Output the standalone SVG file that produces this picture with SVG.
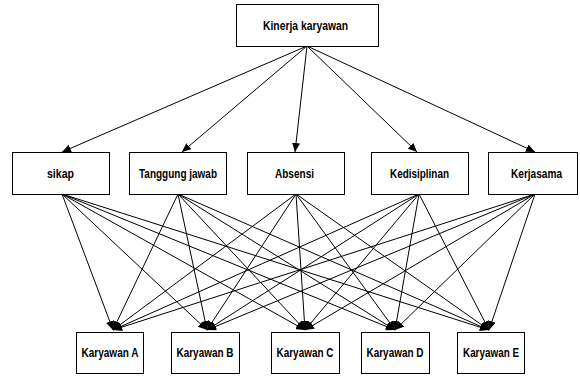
<svg xmlns="http://www.w3.org/2000/svg" width="580" height="376" viewBox="0 0 580 376">
<defs>
<style>
.box{fill:#fff;stroke:#000;stroke-width:1}
.t{font-family:"Liberation Sans",Arial,sans-serif;font-weight:bold;font-size:12px;text-anchor:middle;fill:#000}
.c line{stroke:#000;stroke-width:1;marker-end:url(#ah)}
</style>
<marker id="ah" markerUnits="userSpaceOnUse" markerWidth="10" markerHeight="8" refX="9" refY="4" orient="auto"><path d="M0,0 L9,4 L0,8 z" fill="#000"/></marker>
</defs>
<rect width="580" height="376" fill="#fff"/>
<g class="c" id="connectors">
<line x1="307" y1="46" x2="62" y2="152"/>
<line x1="307" y1="46" x2="182" y2="152"/>
<line x1="307" y1="46" x2="295" y2="152"/>
<line x1="307" y1="46" x2="417" y2="152"/>
<line x1="307" y1="46" x2="535" y2="152"/>
<line x1="62" y1="194" x2="113" y2="330"/>
<line x1="62" y1="194" x2="207" y2="330"/>
<line x1="62" y1="194" x2="305" y2="330"/>
<line x1="62" y1="194" x2="395" y2="330"/>
<line x1="62" y1="194" x2="489" y2="330"/>
<line x1="178" y1="194" x2="113" y2="330"/>
<line x1="178" y1="194" x2="207" y2="330"/>
<line x1="178" y1="194" x2="305" y2="330"/>
<line x1="178" y1="194" x2="395" y2="330"/>
<line x1="178" y1="194" x2="489" y2="330"/>
<line x1="296" y1="194" x2="113" y2="330"/>
<line x1="296" y1="194" x2="207" y2="330"/>
<line x1="296" y1="194" x2="305" y2="330"/>
<line x1="296" y1="194" x2="395" y2="330"/>
<line x1="296" y1="194" x2="489" y2="330"/>
<line x1="419" y1="194" x2="113" y2="330"/>
<line x1="419" y1="194" x2="207" y2="330"/>
<line x1="419" y1="194" x2="305" y2="330"/>
<line x1="419" y1="194" x2="395" y2="330"/>
<line x1="419" y1="194" x2="489" y2="330"/>
<line x1="535" y1="194" x2="113" y2="330"/>
<line x1="535" y1="194" x2="207" y2="330"/>
<line x1="535" y1="194" x2="305" y2="330"/>
<line x1="535" y1="194" x2="395" y2="330"/>
<line x1="535" y1="194" x2="489" y2="330"/>
</g>
<g id="kinerja"><rect class="box" x="236.5" y="4.5" width="142" height="42"/><text class="t" x="305.5" y="30" textLength="85" lengthAdjust="spacingAndGlyphs">Kinerja karyawan</text></g>
<g id="sikap"><rect class="box" x="12.5" y="152.5" width="97" height="42"/><text class="t" x="60.5" y="177.5" textLength="27" lengthAdjust="spacingAndGlyphs">sikap</text></g>
<g id="tanggung"><rect class="box" x="129.5" y="152.5" width="97" height="42"/><text class="t" x="178" y="177.5" textLength="78" lengthAdjust="spacingAndGlyphs">Tanggung jawab</text></g>
<g id="absensi"><rect class="box" x="247.5" y="152.5" width="97" height="42"/><text class="t" x="294.5" y="177.5" textLength="39" lengthAdjust="spacingAndGlyphs">Absensi</text></g>
<g id="kedisiplinan"><rect class="box" x="371.5" y="152.5" width="97" height="42"/><text class="t" x="419.5" y="177.5" textLength="59" lengthAdjust="spacingAndGlyphs">Kedisiplinan</text></g>
<g id="kerjasama"><rect class="box" x="488.5" y="152.5" width="89" height="42"/><text class="t" x="536.5" y="177.5" textLength="51" lengthAdjust="spacingAndGlyphs">Kerjasama</text></g>
<g id="karyawanA"><rect class="box" x="76.5" y="332.5" width="67" height="41"/><text class="t" x="110" y="356.5" textLength="57" lengthAdjust="spacingAndGlyphs">Karyawan A</text></g>
<g id="karyawanB"><rect class="box" x="171.5" y="332.5" width="68" height="41"/><text class="t" x="205" y="356.5" textLength="57" lengthAdjust="spacingAndGlyphs">Karyawan B</text></g>
<g id="karyawanC"><rect class="box" x="271.5" y="332.5" width="68" height="41"/><text class="t" x="305" y="356.5" textLength="57" lengthAdjust="spacingAndGlyphs">Karyawan C</text></g>
<g id="karyawanD"><rect class="box" x="361.5" y="332.5" width="68" height="41"/><text class="t" x="395" y="356.5" textLength="57" lengthAdjust="spacingAndGlyphs">Karyawan D</text></g>
<g id="karyawanE"><rect class="box" x="457.5" y="332.5" width="67" height="41"/><text class="t" x="491" y="356.5" textLength="56" lengthAdjust="spacingAndGlyphs">Karyawan E</text></g>
</svg>
